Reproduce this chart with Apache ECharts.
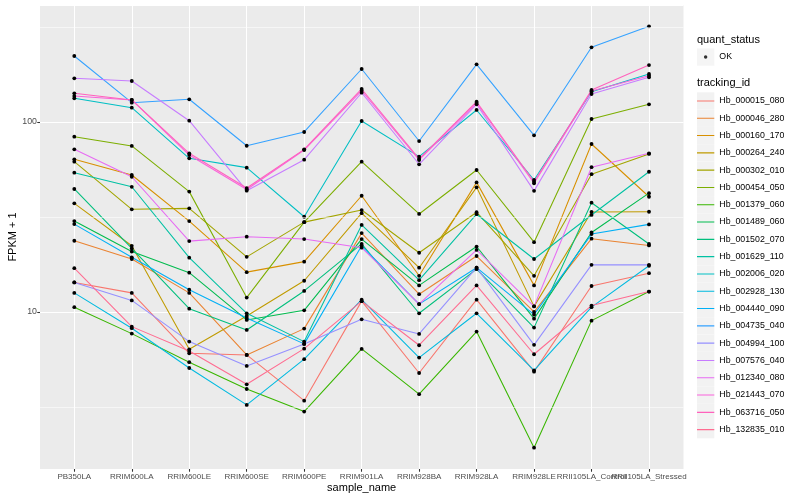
<!DOCTYPE html>
<html><head><meta charset="utf-8">
<script src="https://cdn.jsdelivr.net/npm/echarts@6/dist/echarts.min.js"></script>
<style>html,body{margin:0;padding:0;background:#fff}#c{width:800px;height:500px}</style>
</head><body><div id="c"></div>
<script>
// ---------- data ----------
const categories = ['PB350LA','RRIM600LA','RRIM600LE','RRIM600SE','RRIM600PE','RRIM901LA','RRIM928BA','RRIM928LA','RRIM928LE','RRII105LA_Control','RRII105LA_Stressed'];
const trackingIds = ['Hb_000015_080','Hb_000046_280','Hb_000160_170','Hb_000264_240','Hb_000302_010','Hb_000454_050','Hb_001379_060','Hb_001489_060','Hb_001502_070','Hb_001629_110','Hb_002006_020','Hb_002928_130','Hb_004440_090','Hb_004735_040','Hb_004994_100','Hb_007576_040','Hb_012340_080','Hb_021443_070','Hb_063716_050','Hb_132835_010'];
const lineColors = ['#F8766D','#EA8331','#D89000','#C09B00','#A3A500','#7CAE00','#39B600','#00BB4E','#00BF7D','#00C1A3','#00BFC4','#00BAE0','#00B0F6','#35A2FF','#9590FF','#C77CFF','#E76BF3','#FA62DB','#FF62BC','#FF6C91'];
const yTickValues = [10, 100];
const yMinorValues = [3.1623, 31.623, 316.23];

const Hb_000015_080 = [14.3, 12.6, 6.06, 5.94, 3.41, 11.4, 4.77, 11.6, 4.85, 13.7, 16.0];
const Hb_000046_280 = [23.7, 19.0, 12.6, 5.94, 8.17, 26.0, 12.4, 19.7, 10.0, 24.3, 22.4];
const Hb_000160_170 = [63.6, 52.6, 30.1, 16.2, 18.4, 40.9, 15.5, 48.1, 13.8, 76.6, 40.4];
const Hb_000264_240 = [37.3, 22.3, 6.36, 9.53, 14.6, 33.1, 17.1, 45.3, 10.7, 33.6, 33.7];
const Hb_000302_010 = [61.8, 34.7, 35.1, 19.5, 29.7, 34.4, 20.5, 33.5, 15.5, 53.1, 67.9];
const Hb_000454_050 = [83.7, 74.8, 43.0, 11.9, 29.7, 61.8, 32.8, 55.9, 23.3, 103.7, 123.9];
const Hb_001379_060 = [10.6, 7.69, 5.44, 3.93, 2.99, 6.39, 3.69, 7.88, 1.93, 9.00, 12.8];
const Hb_001489_060 = [30.1, 20.8, 16.1, 9.08, 10.2, 24.2, 13.8, 22.1, 9.22, 26.2, 42.2];
const Hb_001502_070 = [44.4, 21.6, 10.4, 8.04, 12.9, 22.8, 9.84, 16.8, 8.27, 37.6, 22.8];
const Hb_001629_110 = [54.1, 45.6, 19.3, 9.84, 6.98, 28.7, 14.7, 32.7, 19.0, 32.4, 54.7];
const Hb_002006_020 = [133.3, 118.9, 64.4, 57.5, 31.7, 101.2, 65.7, 115.7, 49.5, 144.4, 178.9];
const Hb_002928_130 = [12.6, 8.21, 5.07, 3.24, 5.64, 11.6, 5.75, 9.84, 4.93, 10.6, 17.5];
const Hb_004440_090 = [29.0, 19.4, 13.1, 9.30, 6.79, 22.3, 11.0, 17.1, 9.68, 25.7, 28.9];
const Hb_004735_040 = [222.6, 126.4, 131.7, 75.0, 88.6, 190.1, 79.4, 201.2, 85.1, 247.3, 318.9];
const Hb_004994_100 = [14.3, 11.5, 6.98, 5.20, 6.79, 9.15, 7.66, 17.1, 6.71, 17.7, 17.7];
const Hb_007576_040 = [169.8, 164.4, 101.6, 43.5, 63.3, 142.6, 59.9, 123.9, 43.4, 140.4, 171.9];
const Hb_012340_080 = [71.8, 51.5, 23.6, 24.9, 24.2, 21.8, 11.0, 21.2, 10.7, 57.8, 68.4];
const Hb_021443_070 = [137.0, 130.6, 67.0, 44.1, 71.2, 146.1, 63.1, 125.9, 47.6, 145.6, 175.3];
const Hb_063716_050 = [141.6, 130.6, 68.4, 44.9, 71.8, 149.2, 63.9, 127.9, 48.5, 147.4, 199.5];
const Hb_132835_010 = [17.0, 8.37, 6.23, 4.16, 6.41, 11.4, 6.68, 13.8, 5.99, 10.8, 12.8];

const seriesValues = [Hb_000015_080, Hb_000046_280, Hb_000160_170, Hb_000264_240, Hb_000302_010, Hb_000454_050, Hb_001379_060, Hb_001489_060, Hb_001502_070, Hb_001629_110, Hb_002006_020, Hb_002928_130, Hb_004440_090, Hb_004735_040, Hb_004994_100, Hb_007576_040, Hb_012340_080, Hb_021443_070, Hb_063716_050, Hb_132835_010];

// ---------- chart ----------
const FONT = "'Liberation Sans', Arial, Helvetica, sans-serif";
const Y_MIN = 1.49, Y_MAX = 413;
const LINE_ICON = 'path://M0,0h0.01v0.01H0Z M17,17h0.01v0.01H17Z M0,7.95H17V9.05H0Z';
const DOT_ICON = 'path://M0,0h0.01v0.01H0Z M17,17h0.01v0.01H17Z M6.8,8.5a1.7,1.7 0 1,0 3.4,0a1.7,1.7 0 1,0 -3.4,0Z';

const chart = echarts.init(document.getElementById('c'), null, {renderer: 'canvas'});

const dataSeries = trackingIds.map((id, i) => ({
  type: 'line', name: id, data: seriesValues[i],
  xAxisIndex: 1, yAxisIndex: 1,
  symbol: 'circle', symbolSize: 3.8, showAllSymbol: true,
  itemStyle: {color: '#000'},
  lineStyle: {color: lineColors[i], width: 1.07},
  emphasis: {disabled: true}, silent: true, z: 3, animation: false
}));

const option = {
  backgroundColor: '#ffffff',
  animation: false,
  textStyle: {fontFamily: FONT},
  title: [
    {text: 'quant_status', left: 697, top: 34, padding: 0, textStyle: {fontSize: 11, fontWeight: 'normal', color: '#000', fontFamily: FONT}},
    {text: 'tracking_id', left: 697, top: 77, padding: 0, textStyle: {fontSize: 11, fontWeight: 'normal', color: '#000', fontFamily: FONT}}
  ],
  grid: [
    {left: 40, right: 116.5, top: 5, bottom: 31, show: true, backgroundColor: '#EBEBEB', borderWidth: 0, containLabel: false, outerBoundsMode: 'none'},
    {left: 74.3, right: 151, top: 5, bottom: 31, show: false, containLabel: false, outerBoundsMode: 'none'}
  ],
  xAxis: [
    {gridIndex: 0, type: 'value', min: 0, max: 1, show: false, splitLine: {show: false}},
    {gridIndex: 1, type: 'category', data: categories, boundaryGap: false,
     axisLine: {show: false},
     axisTick: {show: true, length: 2.75, lineStyle: {color: '#333333', width: 1.07}, alignWithLabel: true, interval: 0},
     axisLabel: {interval: 0, fontSize: 8, color: '#4D4D4D', margin: 4, fontFamily: FONT},
     splitLine: {show: true, interval: 0, lineStyle: {color: '#ffffff', width: 1.07}},
     name: 'sample_name', nameLocation: 'middle', nameGap: 13, nameMoveOverlap: false,
     nameTextStyle: {fontSize: 11, color: '#000', fontFamily: FONT}}
  ],
  yAxis: [
    {gridIndex: 0, type: 'log', logBase: 10, min: Y_MIN, max: Y_MAX,
     axisLine: {show: false},
     axisTick: {show: true, length: 2.75, lineStyle: {color: '#333333', width: 1.07}},
     axisLabel: {fontSize: 8.8, color: '#4D4D4D', margin: 3, showMinLabel: false, showMaxLabel: false, fontFamily: FONT,
                 formatter: v => (yTickValues.some(t => Math.abs(t - v) / t < 1e-6) ? String(Math.round(v)) : '')},
     splitLine: {show: true, lineStyle: {color: '#ffffff', width: 1.07}},
     minorTick: {show: false}, minorSplitLine: {show: false},
     name: 'FPKM + 1', nameLocation: 'middle', nameGap: 21.5, nameRotate: 90, nameMoveOverlap: false,
     nameTextStyle: {fontSize: 11, color: '#000', fontFamily: FONT}},
    {gridIndex: 1, type: 'log', logBase: 10, min: Y_MIN, max: Y_MAX, show: false, splitLine: {show: false}}
  ],
  legend: [
    {data: ['OK'], orient: 'vertical', left: 697, top: 48.4, padding: 0, itemGap: 0,
     itemWidth: 17.3, itemHeight: 17.3, icon: 'rect', selectedMode: false, z: 4,
     itemStyle: {color: '#F2F2F2', borderWidth: 0},
     textStyle: {fontSize: 8.8, color: 'rgba(0,0,0,0)', fontFamily: FONT}},
    {data: [{name: 'OK', icon: DOT_ICON, itemStyle: {color: '#000000', borderWidth: 0}}], orient: 'vertical', left: 697, top: 48.4, padding: 0, itemGap: 0,
     itemWidth: 17.3, itemHeight: 17.3, selectedMode: false, z: 5,
     textStyle: {fontSize: 8.8, color: '#000', fontFamily: FONT}},
    {data: trackingIds, orient: 'vertical', left: 697, top: 92.3, padding: 0, itemGap: 0,
     itemWidth: 17.3, itemHeight: 17.3, icon: 'rect', selectedMode: false, z: 4,
     itemStyle: {color: '#F2F2F2', borderWidth: 0},
     textStyle: {fontSize: 8.8, color: 'rgba(0,0,0,0)', fontFamily: FONT}},
    {data: trackingIds.map((id, i) => ({name: id, icon: LINE_ICON, itemStyle: {color: lineColors[i], borderWidth: 0}})),
     orient: 'vertical', left: 697, top: 92.3, padding: 0, itemGap: 0,
     itemWidth: 17.3, itemHeight: 17.3, selectedMode: false, z: 5,
     textStyle: {fontSize: 8.8, color: '#000', fontFamily: FONT}}
  ],
  series: [
    {type: 'line', name: '__minor', data: [], xAxisIndex: 0, yAxisIndex: 0, z: 1, silent: true,
     markLine: {silent: true, symbol: ['none', 'none'], label: {show: false}, animation: false,
                lineStyle: {color: '#ffffff', width: 0.55, type: 'solid'},
                emphasis: {disabled: true},
                data: yMinorValues.map(v => ({yAxis: v}))}},
    {type: 'scatter', name: 'OK', data: [], xAxisIndex: 1, yAxisIndex: 1, itemStyle: {color: '#000'}}
  ].concat(dataSeries)
};
chart.setOption(option);
</script>
</body></html>
